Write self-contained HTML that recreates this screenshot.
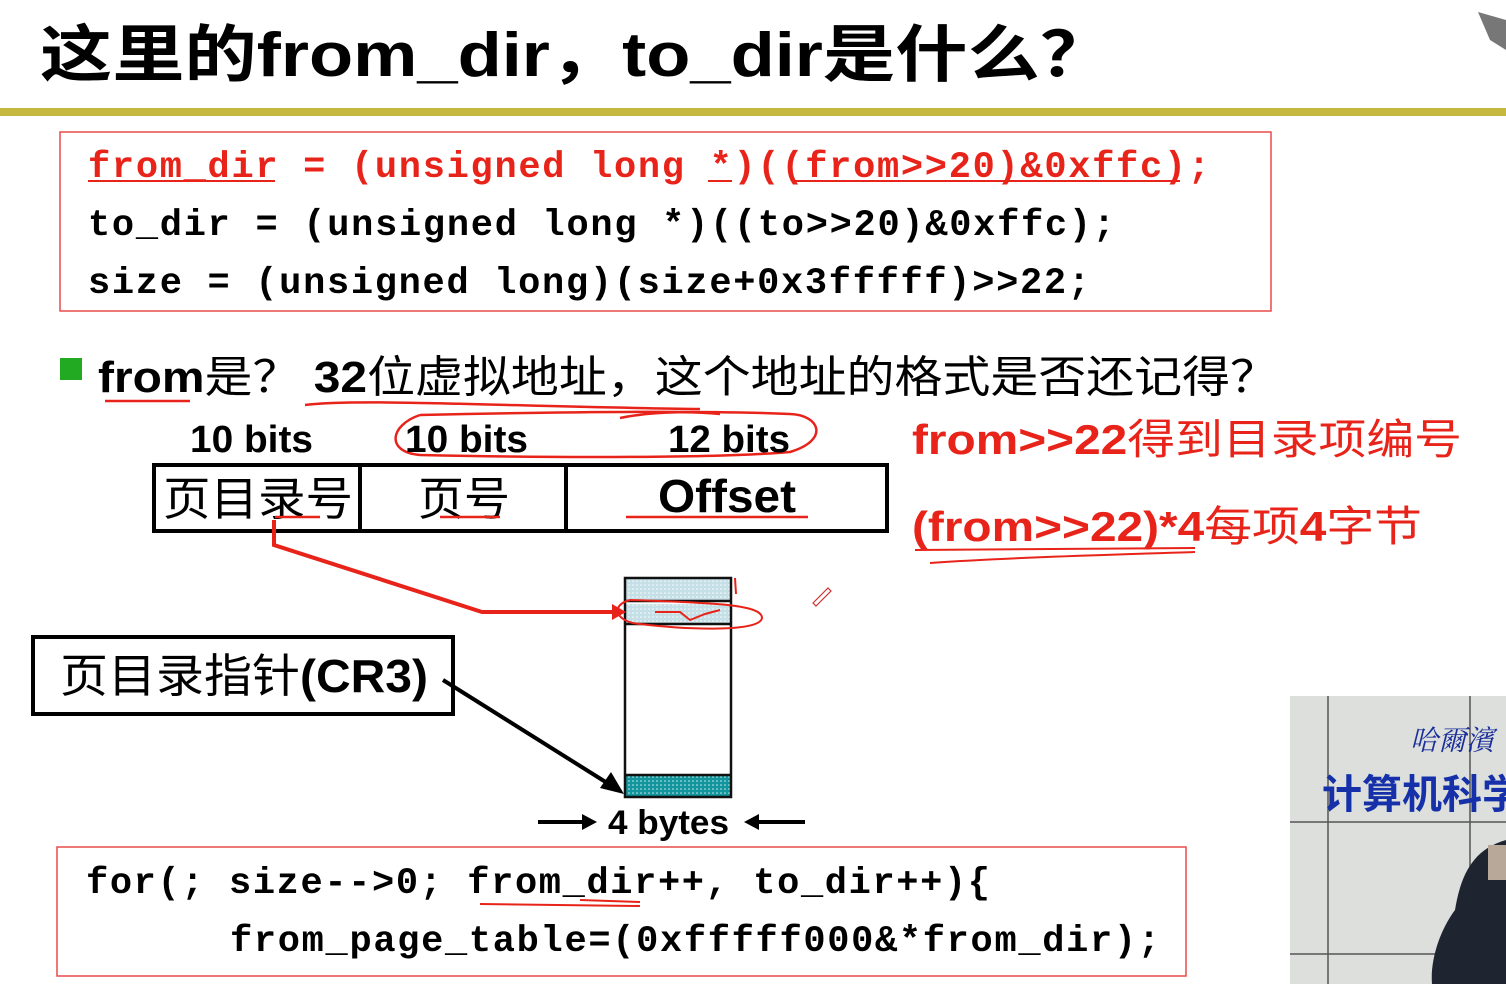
<!DOCTYPE html>
<html><head><meta charset="utf-8"><style>
html,body{margin:0;padding:0;background:#fff;width:1506px;height:984px;overflow:hidden}
svg{display:block}
.m{font-family:"Liberation Mono",monospace;font-weight:bold;font-size:37px}
.s{font-family:"Liberation Sans","Noto Sans CJK SC",sans-serif}
</style></head><body>
<svg width="1506" height="984" viewBox="0 0 1506 984" xmlns="http://www.w3.org/2000/svg">
<defs>
<pattern id="dl" width="4" height="4" patternUnits="userSpaceOnUse"><rect width="4" height="4" fill="#c4dfe6"/><circle cx="1" cy="1" r="0.8" fill="#fff"/></pattern>
<pattern id="dt" width="4" height="4" patternUnits="userSpaceOnUse"><rect width="4" height="4" fill="#12959c"/><circle cx="1" cy="1" r="0.8" fill="#cfeeee"/></pattern>
</defs>
<!-- title -->
<text x="40" y="76" class="s" font-size="62" font-weight="bold" textLength="1072" lengthAdjust="spacingAndGlyphs">这里的from_dir，to_dir是什么？</text>
<rect x="0" y="108" width="1506" height="8" fill="#c6b83e"/>
<path d="M1478 12 L1506 20 L1506 50 L1490 40 Z" fill="#777"/>
<!-- code box 1 -->
<rect x="60" y="132" width="1211" height="179" fill="none" stroke="#e84a4a" stroke-width="1.5"/>
<text x="88" y="177" class="m" fill="#e8231a" textLength="1122" lengthAdjust="spacing">from_dir = (unsigned long *)((from&gt;&gt;20)&amp;0xffc);</text>
<text x="88" y="235" class="m" textLength="1027" lengthAdjust="spacing">to_dir = (unsigned long *)((to&gt;&gt;20)&amp;0xffc);</text>
<text x="88" y="293" class="m" textLength="1002" lengthAdjust="spacing">size = (unsigned long)(size+0x3fffff)&gt;&gt;22;</text>
<g stroke="#e8231a" stroke-width="2" fill="none">
<path d="M88 181 L275 181"/><path d="M708 181 L732 181"/><path d="M792 181 L1180 181"/>
</g>
<!-- bullet -->
<rect x="60" y="358" width="22" height="22" fill="#22aa22"/>
<text x="98" y="392" class="s" font-size="44" textLength="1180" lengthAdjust="spacingAndGlyphs"><tspan font-weight="bold">from</tspan>是？ <tspan font-weight="bold">32</tspan>位虚拟地址，这个地址的格式是否还记得？</text>
<g stroke="#e8231a" stroke-width="2.5" fill="none">
<path d="M105 401 L190 401"/>
<path d="M305 405 C360 398 520 407 700 409"/>
<path d="M420 415 C390 425 385 452 420 455 C560 458 720 458 790 452 C830 440 820 415 790 414 C720 411 600 411 420 415"/>
<path d="M620 418 C660 410 700 412 720 414"/>
</g>
<!-- bit labels -->
<g class="s" font-size="38" font-weight="bold">
<text x="190" y="452" textLength="123" lengthAdjust="spacingAndGlyphs">10 bits</text>
<text x="405" y="452" textLength="123" lengthAdjust="spacingAndGlyphs">10 bits</text>
<text x="668" y="452" textLength="122" lengthAdjust="spacingAndGlyphs">12 bits</text>
</g>
<!-- address table -->
<rect x="154" y="465" width="733" height="66" fill="none" stroke="#000" stroke-width="4"/>
<path d="M360 465 V531 M566 465 V531" stroke="#000" stroke-width="4"/>
<text x="163" y="515" class="s" font-size="46" textLength="190" lengthAdjust="spacingAndGlyphs">页目录号</text>
<text x="418" y="515" class="s" font-size="46" textLength="92" lengthAdjust="spacingAndGlyphs">页号</text>
<text x="658" y="512" class="s" font-size="46" font-weight="bold" textLength="138" lengthAdjust="spacingAndGlyphs">Offset</text>
<g stroke="#e8231a" stroke-width="2.5" fill="none">
<path d="M626 517 L808 517"/><path d="M440 517 L500 517"/><path d="M275 517 L320 517"/>
</g>
<!-- right red notes -->
<text x="912" y="454" class="s" font-size="42" fill="#e8231a" textLength="550" lengthAdjust="spacingAndGlyphs"><tspan font-weight="bold">from&gt;&gt;22</tspan>得到目录项编号</text>
<text x="912" y="541" class="s" font-size="42" fill="#e8231a" textLength="510" lengthAdjust="spacingAndGlyphs"><tspan font-weight="bold">(from&gt;&gt;22)*4</tspan>每项<tspan font-weight="bold">4</tspan>字节</text>
<path d="M915 550 L1195 548 M930 563 C1000 558 1100 555 1195 552" stroke="#e8231a" stroke-width="2" fill="none"/>
<!-- memory block -->
<rect x="625" y="578" width="106" height="22" fill="url(#dl)"/>
<rect x="625" y="604" width="106" height="20" fill="url(#dl)"/>
<rect x="625" y="776" width="106" height="21" fill="url(#dt)"/>
<rect x="625" y="578" width="106" height="219" fill="none" stroke="#111" stroke-width="2.5"/>
<path d="M625 601 H731 M625 624 H731 M625 775 H731" stroke="#111" stroke-width="2.5"/>
<!-- red connector -->
<path d="M274 520 L274 545 L482 612 L622 612" stroke="#e8231a" stroke-width="4" fill="none"/>
<path d="M612 604 L626 612 L612 620 Z" fill="#e8231a"/>
<g stroke="#e8231a" stroke-width="2" fill="none">
<path d="M735 578 L736 594"/>
<path d="M630 600 C610 605 615 622 640 624 C690 630 760 632 762 618 C762 605 720 603 630 600"/>
<path d="M655 612 L680 612 L690 620 L705 614 L720 610"/>
</g>
<path d="M813 603 L828 588 L831 591 L816 606 Z" fill="none" stroke="#c33" stroke-width="1.2"/>
<!-- CR3 box -->
<rect x="33" y="637" width="420" height="77" fill="none" stroke="#000" stroke-width="4"/>
<text x="60" y="692" class="s" font-size="46" textLength="368" lengthAdjust="spacingAndGlyphs">页目录指针<tspan font-weight="bold">(CR3)</tspan></text>
<path d="M443 680 L612 786" stroke="#000" stroke-width="4"/>
<path d="M624 794 L600 788 L611 772 Z" fill="#000"/>
<!-- 4 bytes -->
<text x="608" y="834" class="s" font-size="34" font-weight="bold" textLength="121" lengthAdjust="spacingAndGlyphs">4 bytes</text>
<path d="M538 822 L585 822" stroke="#000" stroke-width="4"/>
<path d="M597 822 L582 814 L582 830 Z" fill="#000"/>
<path d="M758 822 L805 822" stroke="#000" stroke-width="4"/>
<path d="M744 822 L759 814 L759 830 Z" fill="#000"/>
<!-- code box 2 -->
<rect x="57" y="847" width="1129" height="129" fill="none" stroke="#e84a4a" stroke-width="1.5"/>
<text x="86" y="893" class="m" textLength="904" lengthAdjust="spacing">for(; size--&gt;0; from_dir++, to_dir++){</text>
<text x="230" y="951" class="m" textLength="930" lengthAdjust="spacing">from_page_table=(0xfffff000&amp;*from_dir);</text>
<path d="M480 904 L640 906 M580 900 L640 902" stroke="#e8231a" stroke-width="2" fill="none"/>
<!-- video -->
<rect x="1290" y="696" width="216" height="288" fill="#dcdfdc"/>
<path d="M1328 696 V984 M1470 696 V984 M1290 822 H1506 M1290 954 H1506" stroke="#555" stroke-width="1.5"/>
<text x="1410" y="750" font-family="Noto Serif CJK SC,serif" font-size="28" fill="#1a2f9a" font-style="italic">哈爾濱</text>
<text x="1322" y="808" class="s" font-size="40" font-weight="bold" fill="#1530a8">计算机科学</text>
<path d="M1506 840 C1470 850 1460 880 1455 910 C1440 930 1430 960 1432 984 L1506 984 Z" fill="#1e2430"/>
<rect x="1488" y="845" width="18" height="35" fill="#b8a89a"/>
</svg>
</body></html>
